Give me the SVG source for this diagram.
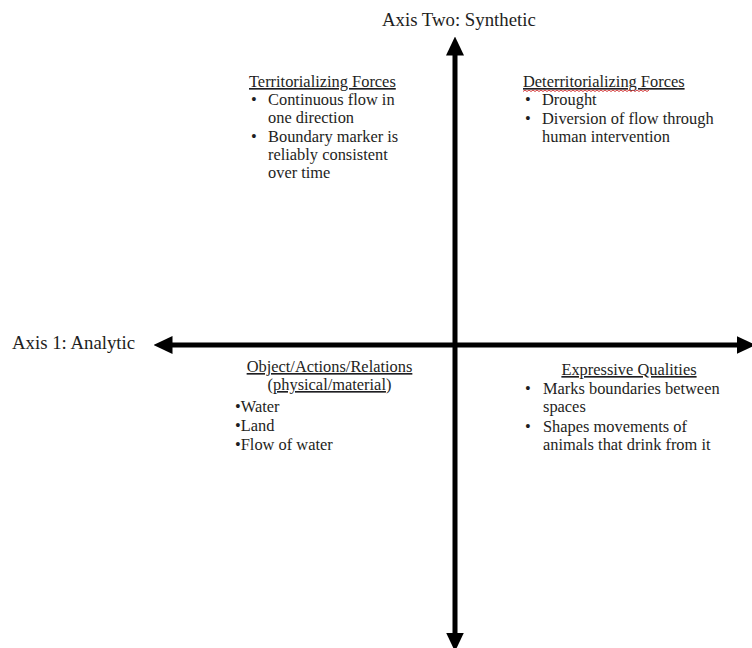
<svg xmlns="http://www.w3.org/2000/svg" width="752" height="648" viewBox="0 0 752 648">
  <style>
    text { font-family: "Liberation Serif", "Times New Roman", serif; fill: #1e1e22; }
    .axis { font-size: 18.8px; }
    .body { font-size: 16.4px; }
    .u { text-decoration: underline; }
    .mid { text-anchor: middle; }
    .ax { stroke: #000; stroke-width: 5; fill: none; }
  </style>
  <defs>
    <marker id="head" markerUnits="userSpaceOnUse" viewBox="0 0 19 18" refX="0.5" refY="9" markerWidth="19" markerHeight="18" orient="auto-start-reverse">
      <path d="M0,0 L19,9 L0,18 Z" fill="#000"/>
    </marker>
  </defs>
  <rect width="752" height="648" fill="#fff"/>

  <g id="connectors">
    <line class="ax" x1="455" y1="55" x2="455" y2="633" marker-start="url(#head)" marker-end="url(#head)"/>
    <line class="ax" x1="172" y1="345" x2="737" y2="345" marker-start="url(#head)" marker-end="url(#head)"/>
  </g>

  <g id="axis-two-label">
    <text class="axis" x="382" y="26">Axis Two: Synthetic</text>
  </g>
  <g id="axis-one-label">
    <text class="axis" x="12" y="349">Axis 1: Analytic</text>
  </g>

  <g id="territorializing">
    <text class="body u" x="249" y="87">Territorializing Forces</text>
    <text class="body" x="251" y="105">•</text>
    <text class="body" x="268" y="105">Continuous flow in</text>
    <text class="body" x="268" y="123">one direction</text>
    <text class="body" x="251" y="142">•</text>
    <text class="body" x="268" y="142">Boundary marker is</text>
    <text class="body" x="268" y="160">reliably consistent</text>
    <text class="body" x="268" y="178">over time</text>
  </g>

  <g id="deterritorializing">
    <text class="body u" x="523" y="87">Deterritorializing Forces</text>
    <path d="M523,91.5 l2,-1.5 l2,1.5 l2,-1.5 l2,1.5 l2,-1.5 l2,1.5 l2,-1.5 l2,1.5 l2,-1.5 l2,1.5 l2,-1.5 l2,1.5 l2,-1.5 l2,1.5 l2,-1.5 l2,1.5 l2,-1.5 l2,1.5 l2,-1.5 l2,1.5 l2,-1.5 l2,1.5 l2,-1.5 l2,1.5 l2,-1.5 l2,1.5 l2,-1.5 l2,1.5 l2,-1.5 l2,1.5 l2,-1.5 l2,1.5 l2,-1.5 l2,1.5 l2,-1.5 l2,1.5 l2,-1.5 l2,1.5 l2,-1.5 l2,1.5 l2,-1.5 l2,1.5 l2,-1.5 l2,1.5 l2,-1.5 l2,1.5 l2,-1.5 l2,1.5 l2,-1.5 l2,1.5 l2,-1.5 l2,1.5 l2,-1.5 l2,1.5 l2,-1.5 l2,1.5 l2,-1.5 l2,1.5 l2,-1.5 l2,1.5 l2,-1.5 l2,1.5 l2,-1.5" fill="none" stroke="#d23a3a" stroke-width="1"/>
    <text class="body" x="525" y="105">•</text>
    <text class="body" x="542" y="105">Drought</text>
    <text class="body" x="525" y="124">•</text>
    <text class="body" x="542" y="124">Diversion of flow through</text>
    <text class="body" x="542" y="142">human intervention</text>
  </g>

  <g id="objects">
    <text class="body mid u" x="329.5" y="372">Object/Actions/Relations</text>
    <text class="body mid" x="329.5" y="390">(<tspan class="u">physical/material</tspan>)</text>
    <text class="body" x="235" y="412">•Water</text>
    <text class="body" x="235" y="431">•Land</text>
    <text class="body" x="235" y="450">•Flow of water</text>
  </g>

  <g id="expressive">
    <text class="body mid u" x="629" y="375">Expressive Qualities</text>
    <text class="body" x="525" y="394">•</text>
    <text class="body" x="543" y="394">Marks boundaries between</text>
    <text class="body" x="543" y="412">spaces</text>
    <text class="body" x="525" y="432">•</text>
    <text class="body" x="543" y="432">Shapes movements of</text>
    <text class="body" x="543" y="450">animals that drink from it</text>
  </g>
</svg>
